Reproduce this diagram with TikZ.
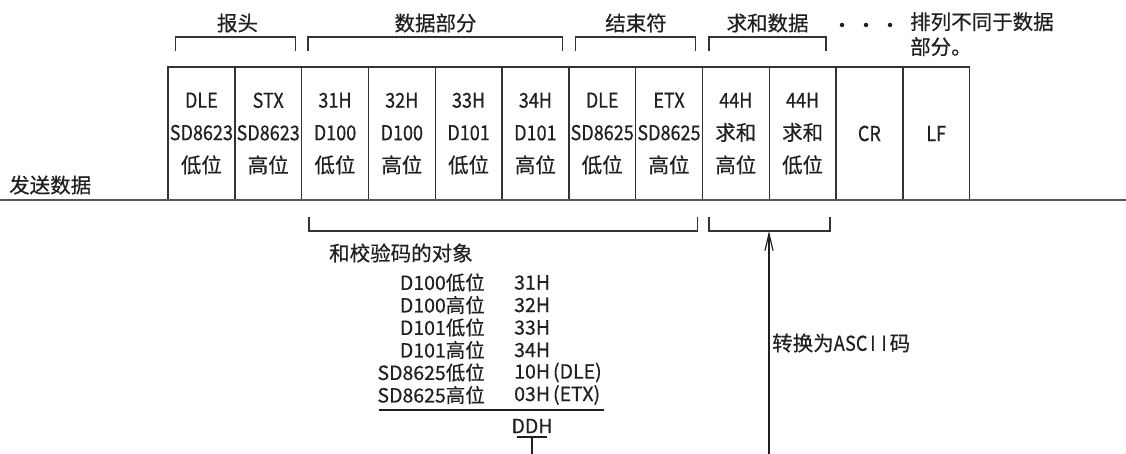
\documentclass[tikz,border=0pt]{standalone}
\usepackage{fontspec}
\setmainfont{Noto Sans CJK SC}[FakeBold=0.5]
\newfontfamily\latf[FakeStretch=0.88,FakeBold=0.5]{Noto Sans CJK SC}
\newcommand\lt[1]{{\latf #1}}
\newcommand\mch[1]{\makebox[11.2pt]{\latf #1}}
\usetikzlibrary{arrows.meta}
\definecolor{ink}{HTML}{231F20}
\definecolor{boxline}{HTML}{333333}
\definecolor{mainline}{HTML}{555555}
\begin{document}
\begin{tikzpicture}[x=1pt,y=-1pt,
  cell/.style={draw=boxline, line width=1.4pt, minimum width=66.8pt, minimum height=133pt,
    inner sep=0pt, align=center, font=\fontsize{20.5}{32.5}\selectfont, text=ink},
  lbl/.style={inner sep=0pt, text=ink, font=\fontsize{20.5}{25}\selectfont},
  tbl/.style={inner sep=0pt, text=ink, font=\fontsize{19.5}{22.5}\selectfont},
  brk/.style={draw=boxline, line width=1.2pt},
  dotc/.style={fill=ink, draw=none, circle, inner sep=0pt, minimum size=4.5pt}]
\useasboundingbox (0,0) rectangle (1126,454);
% main line
\coordinate (lineL) at (0,200);
\coordinate (lineR) at (1126,200);
% cells
\node[cell] (c1)  at (201.4,133.5) {\lt{DLE}\\\lt{SD8623}\\低位};
\node[cell] (c2)  at (268.2,133.5) {\lt{STX}\\\lt{SD8623}\\高位};
\node[cell] (c3)  at (335.0,133.5) {\lt{31H}\\\lt{D100}\\低位};
\node[cell] (c4)  at (401.8,133.5) {\lt{32H}\\\lt{D100}\\高位};
\node[cell] (c5)  at (468.6,133.5) {\lt{33H}\\\lt{D101}\\低位};
\node[cell] (c6)  at (535.4,133.5) {\lt{34H}\\\lt{D101}\\高位};
\node[cell] (c7)  at (602.2,133.5) {\lt{DLE}\\\lt{SD8625}\\低位};
\node[cell] (c8)  at (669.0,133.5) {\lt{ETX}\\\lt{SD8625}\\高位};
\node[cell] (c9)  at (735.8,133.5) {\lt{44H}\\求和\\高位};
\node[cell] (c10) at (802.6,133.5) {\lt{44H}\\求和\\低位};
\node[cell] (c11) at (869.4,133.5) {\lt{CR}};
\node[cell] (c12) at (936.2,133.5) {\lt{LF}};
\draw[draw=mainline, line width=1.7pt] (lineL) -- (lineR);
\node[lbl, anchor=west] (send) at (9,185) {发送数据};
% upper brackets
\draw[brk] (175.5,51) -- (175.5,37) -- (295.5,37) -- (295.5,51);
\draw[brk] (308,51) -- (308,37) -- (562.5,37) -- (562.5,51);
\draw[brk] (575.5,51) -- (575.5,37) -- (695.5,37) -- (695.5,51);
\draw[brk] (709,51) -- (709,37) -- (826,37) -- (826,51);
\node[lbl] (h1) at (237.5,23) {报头};
\node[lbl] (h2) at (435.5,23) {数据部分};
\node[lbl] (h3) at (636,23) {结束符};
\node[lbl] (h4) at (767.5,23) {求和数据};
\node[dotc] (d1) at (842,25) {};
\node[dotc] (d2) at (866,25) {};
\node[dotc] (d3) at (890,25) {};
\node[lbl, anchor=north west, align=left] (note) at (910,12) {排列不同于数据\\部分。};
% lower brackets
\draw[brk] (309,217) -- (309,231) -- (697.5,231) -- (697.5,217);
\draw[brk] (709,217) -- (709,231) -- (830,231) -- (830,217);
\coordinate (atip) at (769,231);
\coordinate (abase) at (769,454);
\draw[draw=ink, line width=1.2pt, -{Straight Barb[length=17pt,width=8pt]}] (abase) -- (atip);
\node[lbl, anchor=west] (asc) at (772,343) {转换为\mch{A}\mch{S}\mch{C}\mch{I}\mch{I}码};
\node[lbl, anchor=west] (obj) at (329,253) {和校验码的对象};
% table
\node[tbl, anchor=east] (l1) at (485,282.5) {D100低位};
\node[tbl, anchor=east] (l2) at (485,305) {D100高位};
\node[tbl, anchor=east] (l3) at (485,327.5) {D101低位};
\node[tbl, anchor=east] (l4) at (485,350) {D101高位};
\node[tbl, anchor=east] (l5) at (485,372.5) {SD8625低位};
\node[tbl, anchor=east] (l6) at (485,395) {SD8625高位};
\node[tbl, anchor=west] (r1) at (514,282.5) {31H};
\node[tbl, anchor=west] (r2) at (514,305) {32H};
\node[tbl, anchor=west] (r3) at (514,327.5) {33H};
\node[tbl, anchor=west] (r4) at (514,350) {34H};
\node[tbl, anchor=west] (r5) at (514,372.5) {10H\kern3pt(DLE)};
\node[tbl, anchor=west] (r6) at (514,395) {03H\kern3pt(ETX)};
\coordinate (sumL) at (379,410);
\coordinate (sumR) at (604,410);
\draw[draw=ink, line width=1.2pt] (sumL) -- (sumR);
\node[tbl] (ddh) at (532,426) {DDH};
\coordinate (ddhL) at (517,437);
\coordinate (ddhR) at (547,437);
\coordinate (ddhB) at (532,454);
\draw[draw=ink, line width=1.2pt] (ddhL) -- (ddhR);
\draw[draw=ink, line width=1.2pt] (ddh.south |- ddhL) -- (ddhB);
\end{tikzpicture}
\end{document}
